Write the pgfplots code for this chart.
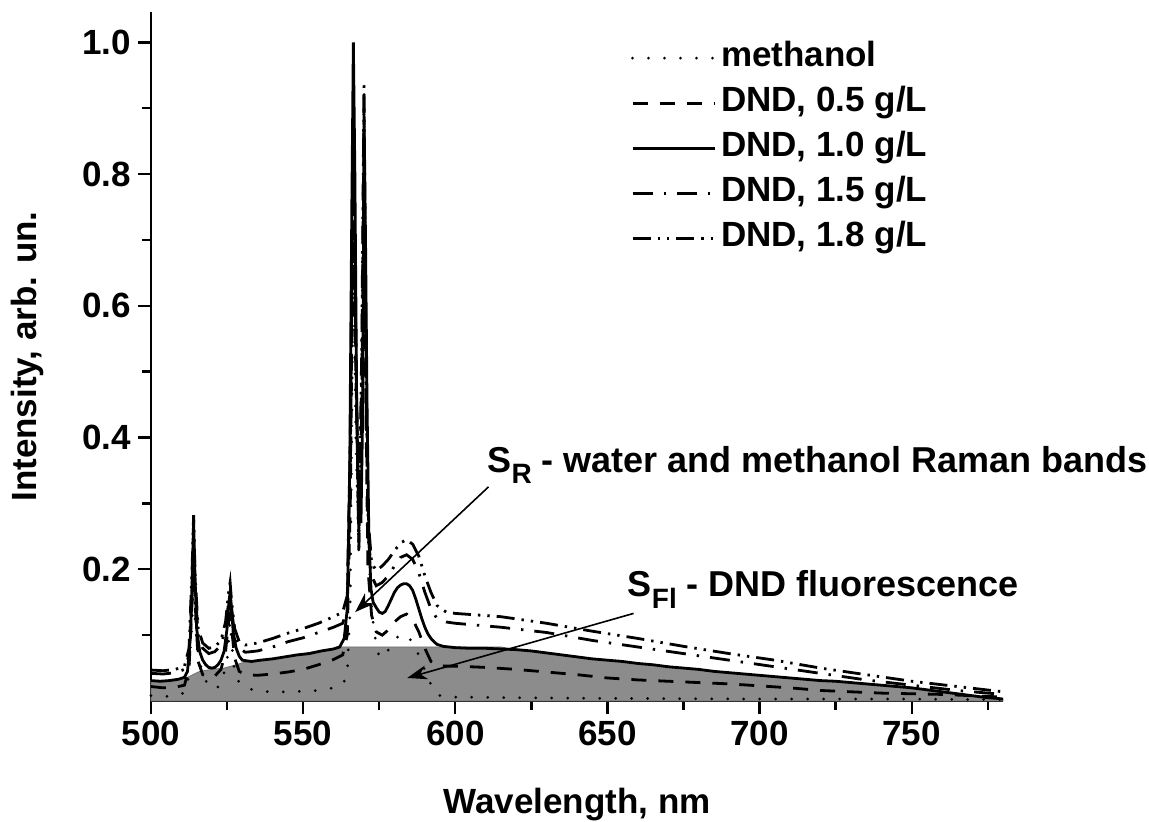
\documentclass[border=0pt]{standalone}
\usepackage{pgfplots}
\pgfplotsset{compat=1.18}
\usepackage{fontspec}
\setmainfont{Liberation Sans}
\usetikzlibrary{arrows.meta}
\definecolor{flgray}{RGB}{140,140,140}

\pgfplotstableread{
x y
500 0.008
505 0.007
510 0.010
512 0.020
513.5 0.12
514 0.20
514.5 0.12
515.5 0.070
517 0.040
519 0.022
521 0.018
523 0.025
525 0.06
526 0.12
527 0.06
528 0.035
530 0.022
535 0.015
540 0.014
545 0.014
550 0.015
555 0.016
560 0.020
563 0.025
564.5 0.04
565.5 0.15
566.5 0.70
567.3 0.40
568.3 0.22
569.3 0.50
570 0.93
570.6 0.50
571.3 0.25
572.5 0.14
573.5 0.10
575 0.066
577 0.070
579 0.085
581 0.097
583 0.102
585 0.095
587 0.080
589 0.058
591 0.035
593 0.015
595 0.008
600 0.006
620 0.005
650 0.004
700 0.003
750 0.003
780 0.002
}\methanol

\pgfplotstableread{
x y
500 0.022
504 0.020
508 0.021
511 0.024
512.5 0.05
513.5 0.15
514 0.20
514.5 0.15
515.5 0.06
517 0.040
519 0.036
521 0.038
523 0.048
524.5 0.075
525.5 0.12
526 0.13
526.5 0.11
527.5 0.065
529 0.045
531 0.040
535 0.039
540 0.041
545 0.044
550 0.048
555 0.055
560 0.063
563 0.070
564.5 0.10
565.5 0.30
566.5 0.80
567.3 0.50
568.3 0.26
569.3 0.45
570 0.85
570.6 0.45
571.3 0.20
572.5 0.13
574 0.105
576 0.100
578 0.108
580 0.120
582 0.128
584 0.132
586 0.124
588 0.105
590 0.080
592 0.060
594 0.054
597 0.053
600 0.053
610 0.051
620 0.048
630 0.044
640 0.040
650 0.035
660 0.032
670 0.030
680 0.028
690 0.026
700 0.023
710 0.020
720 0.016
730 0.014
740 0.012
750 0.011
760 0.010
770 0.008
780 0.006
}\dndA

\pgfplotstableread{
x y
500 0.031
503 0.030
506 0.031
509 0.033
511 0.036
512 0.045
513 0.10
513.6 0.20
514 0.275
514.4 0.20
515 0.11
516 0.075
517 0.062
518 0.055
519 0.051
520 0.050
521 0.051
522 0.055
523 0.062
524 0.075
525 0.11
525.6 0.15
526 0.165
526.5 0.14
527 0.105
528 0.080
529 0.068
530 0.062
533 0.060
536 0.062
540 0.064
544 0.067
548 0.070
552 0.072
556 0.076
560 0.079
562 0.082
563.5 0.095
564.5 0.14
565.3 0.35
566 0.75
566.5 1.0
567 0.80
567.6 0.45
568.2 0.30
569 0.27
569.6 0.45
570 0.90
570.5 0.70
571 0.45
571.6 0.25
572.3 0.17
573 0.15
574 0.142
575 0.135
576 0.133
577 0.136
578 0.145
579 0.155
580 0.165
581 0.172
582 0.176
583 0.178
584 0.178
585 0.175
586 0.168
587 0.155
588 0.140
589 0.125
590 0.112
591 0.102
592 0.095
593 0.090
594 0.086
596 0.083
598 0.082
600 0.081
605 0.080
610 0.080
615 0.079
620 0.078
625 0.076
630 0.073
635 0.070
640 0.067
645 0.064
650 0.062
655 0.060
660 0.057
665 0.055
670 0.052
675 0.050
680 0.048
685 0.045
690 0.043
695 0.041
700 0.039
705 0.037
710 0.035
715 0.033
720 0.031
725 0.030
730 0.028
735 0.026
740 0.024
745 0.022
750 0.020
755 0.017
760 0.014
765 0.011
770 0.008
775 0.005
778 0.004
780 0.003
}\dndB

\pgfplotstableread{
x y
500 0.042
504 0.041
508 0.043
511 0.048
512.5 0.07
513.5 0.17
514 0.24
514.5 0.17
515.5 0.10
517 0.080
519 0.072
521 0.075
523 0.085
524.5 0.11
525.5 0.15
526 0.16
526.5 0.14
527.5 0.10
529 0.080
531 0.074
535 0.076
540 0.082
545 0.090
550 0.096
555 0.104
560 0.112
563 0.118
564.5 0.14
565.5 0.35
566.5 0.88
567.3 0.55
568.3 0.24
569.3 0.50
570 0.88
570.6 0.50
571.3 0.26
572.5 0.19
574 0.175
576 0.180
578 0.190
580 0.205
582 0.218
584 0.222
586 0.215
588 0.195
590 0.165
592 0.140
594 0.125
597 0.120
600 0.118
615 0.112
630 0.104
645 0.092
660 0.082
675 0.072
690 0.062
705 0.052
720 0.042
735 0.032
750 0.024
765 0.016
780 0.010
}\dndC

\pgfplotstableread{
x y
500 0.047
504 0.046
508 0.048
511 0.053
512.5 0.08
513.5 0.20
514 0.282
514.5 0.19
515.5 0.11
517 0.088
519 0.080
521 0.082
523 0.092
524.5 0.12
525.5 0.165
526 0.18
526.5 0.15
527.5 0.11
529 0.090
531 0.085
535 0.088
540 0.095
545 0.103
550 0.110
555 0.118
560 0.128
563 0.135
564.5 0.16
565.5 0.40
566.5 0.85
567.3 0.55
568.3 0.23
569.3 0.55
570 0.94
570.6 0.55
571.3 0.28
572.5 0.21
574 0.198
576 0.205
578 0.215
580 0.228
582 0.240
584 0.245
586 0.238
588 0.220
590 0.190
592 0.165
594 0.145
597 0.135
600 0.133
615 0.128
630 0.118
645 0.106
660 0.095
675 0.083
690 0.072
705 0.062
720 0.050
735 0.040
750 0.030
765 0.022
780 0.014
}\dndD

\pgfplotstableread{
x y
500 0.031
506 0.031
510 0.033
512 0.036
516 0.045
520 0.048
524 0.050
528 0.055
530 0.058
535 0.061
540 0.064
545 0.068
550 0.072
555 0.076
560 0.080
561 0.082
615 0.082
620 0.078
625 0.076
630 0.073
640 0.067
650 0.062
660 0.057
670 0.052
680 0.048
690 0.043
700 0.039
710 0.035
720 0.031
730 0.028
740 0.024
750 0.020
760 0.014
770 0.008
780 0.003
}\fluor

\begin{document}
\begin{tikzpicture}
\begin{axis}[
  scale only axis,
  width=426pt, height=344.5pt,
  xmin=500, xmax=780, ymin=0, ymax=1.046,
  clip=false,
  axis x line*=bottom, axis y line*=left,
  axis line style={line width=1.4pt, black},
  xtick={500,550,...,750},
  minor xtick={525,575,...,775},
  ytick={0.2,0.4,0.6,0.8,1.0},
  minor ytick={0.1,0.3,0.5,0.7,0.9},
  tick align=outside,
  major tick length=6.5pt, minor tick length=4.5pt,
  every tick/.style={line width=1.2pt, black},
  /pgf/number format/assume math mode=true,
  tick label style={font=\bfseries\fontsize{17.5}{20}\selectfont},
  yticklabel style={/pgf/number format/.cd, fixed, fixed zerofill, precision=1},
  xlabel={Wavelength, nm},
  ylabel={Intensity, arb. un.},
  label style={font=\bfseries\fontsize{17.5}{20}\selectfont},
  xlabel style={at={(axis description cs:0.5,-0.1626)}, anchor=base},
  ylabel style={at={(axis description cs:-0.1338,0.5)}, anchor=base},
  legend style={draw=none, fill=none, inner sep=0pt, outer sep=0pt,
    at={(axis description cs:0.5634,0.9565)}, anchor=north west,
    font=\bfseries\fontsize{17.5}{20}\selectfont,
    column sep=0pt, row sep=6.3pt,
    nodes={inner xsep=2.5pt, inner ysep=0pt, text height=12.5pt, text depth=3.7pt}},
  legend cell align=left,
  legend image code/.code={\draw[#1] (0pt,0pt) -- (41pt,0pt);},
]
\addplot[fill=flgray, draw=flgray!80!black, line width=0.4pt, forget plot] table {\fluor} \closedcycle;

\addplot[black, line width=1.5pt, line cap=round, dash pattern=on 0pt off 8pt] table {\methanol};
\addlegendentry{methanol}
\addplot[black, line width=1.4pt, dash pattern=on 7.5pt off 6pt] table {\dndA};
\addlegendentry{DND, 0.5 g/L}
\addplot[black, line width=1.4pt] table {\dndB};
\addlegendentry{DND, 1.0 g/L}
\addplot[black, line width=1.4pt, dash pattern=on 10pt off 5.5pt on 1.2pt off 5.5pt] table {\dndC};
\addlegendentry{DND, 1.5 g/L}
\addplot[black, line width=1.4pt, dash pattern=on 9pt off 3.5pt on 1.2pt off 3.5pt on 1.2pt off 3.5pt] table {\dndD};
\addlegendentry{DND, 1.8 g/L}

\draw[line width=0.8pt, -{Stealth[length=10pt, width=7pt]}] (axis cs:610.9,0.325) -- (axis cs:567.1,0.135);
\draw[line width=0.8pt, -{Stealth[length=10pt, width=7pt]}] (axis cs:658.6,0.133) -- (axis cs:584.2,0.035);
\node[anchor=base west, inner sep=0pt, font=\bfseries\fontsize{18}{22}\selectfont] at (axis cs:610.5,0.3475)
  {S\raisebox{-5.5pt}{\fontsize{14}{16}\selectfont R} - water and methanol Raman bands};
\node[anchor=base west, inner sep=0pt, font=\bfseries\fontsize{18}{22}\selectfont] at (axis cs:656.6,0.159)
  {S\raisebox{-6pt}{\fontsize{14}{16}\selectfont Fl} - DND fluorescence};
\end{axis}
\pgfresetboundingbox
\path[use as bounding box] (-75.5pt,-60pt) rectangle (499pt,350.5pt);
\end{tikzpicture}
\end{document}
